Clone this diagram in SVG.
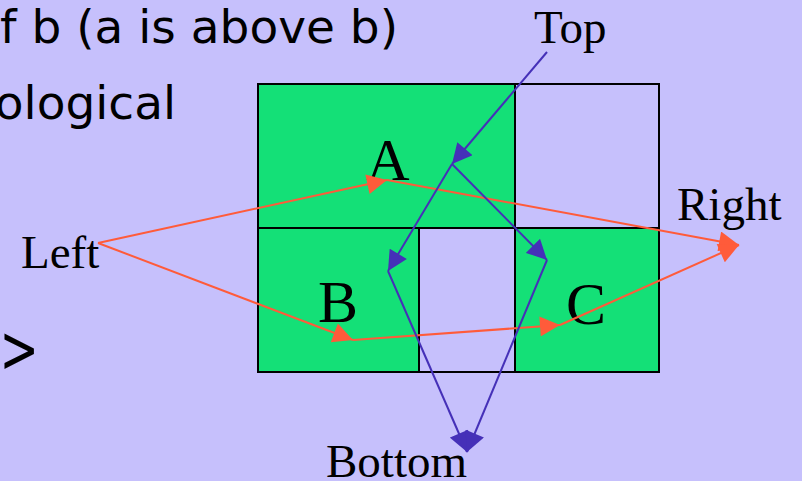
<svg xmlns="http://www.w3.org/2000/svg" width="802" height="481" viewBox="0 0 802 481">
<style>
.bg{fill:#C6C0FC}
.cell{stroke:#000;stroke-width:2}
.g{fill:#14E077}
.e{fill:#C6C0FC}
.lbl{font-family:"Liberation Serif","Times New Roman",serif;fill:#000}
.big{font-size:60px;text-anchor:middle}
.side{font-size:47px}
.body{font-family:"Comic Sans MS","DejaVu Sans",sans-serif;font-size:47px;fill:#000}
.o{stroke:#FF5B3A;stroke-width:2;fill:none;marker-end:url(#ao)}
.b{stroke:#4530B8;stroke-width:2;fill:none;marker-end:url(#ab)}
</style>
<defs>
<marker id="ao" markerUnits="userSpaceOnUse" viewBox="0 0 20 20" refX="20" refY="10" markerWidth="21" markerHeight="20" orient="auto"><path d="M0,0 L20,10 L0,20 z" fill="#FF5B3A"/></marker>
<marker id="ab" markerUnits="userSpaceOnUse" viewBox="0 0 20 20" refX="20" refY="10" markerWidth="21" markerHeight="20" orient="auto"><path d="M0,0 L20,10 L0,20 z" fill="#4530B8"/></marker>
</defs>
<rect class="bg" x="0" y="0" width="802" height="481"/>
<text class="body" x="398" y="43" text-anchor="end">f b (a is above b)</text>
<text class="body" x="176" y="119" text-anchor="end">ological</text>
<text class="body" transform="translate(39,372) scale(1,1.4)" x="0" y="0" text-anchor="end" font-size="54">&gt;</text>
<g id="cell-empty-tr"><rect class="cell e" x="515" y="84" width="144" height="144"/></g>
<g id="cell-empty-mid"><rect class="cell e" x="419" y="228" width="96" height="144"/></g>
<g id="node-A"><rect class="cell g" x="258" y="84" width="257" height="144"/><text class="lbl big" x="388" y="180">A</text></g>
<g id="node-B"><rect class="cell g" x="258" y="228" width="161" height="144"/><text class="lbl big" x="338" y="322">B</text></g>
<g id="node-C"><rect class="cell g" x="515" y="228" width="144" height="144"/><text class="lbl big" x="586" y="324">C</text></g>
<g id="node-Left"><text class="lbl side" x="21" y="268">Left</text></g>
<g id="node-Right"><text class="lbl side" x="677" y="220">Right</text></g>
<g id="node-Top"><text class="lbl side" x="534" y="43">Top</text></g>
<g id="node-Bottom"><text class="lbl side" x="326" y="477">Bottom</text></g>
<g id="connectors">
<line class="o" x1="98" y1="243" x2="387" y2="180"/>
<line class="o" x1="98" y1="243" x2="353" y2="340"/>
<line class="o" x1="387" y1="180" x2="739" y2="245"/>
<line class="o" x1="353" y1="340" x2="560" y2="325"/>
<line class="o" x1="560" y1="325" x2="739" y2="245"/>
<line class="b" x1="547" y1="52" x2="452" y2="164"/>
<line class="b" x1="452" y1="164" x2="388" y2="271"/>
<line class="b" x1="452" y1="164" x2="547" y2="260"/>
<line class="b" x1="388" y1="271" x2="467" y2="452"/>
<line class="b" x1="547" y1="260" x2="467" y2="452"/>
</g>
</svg>
